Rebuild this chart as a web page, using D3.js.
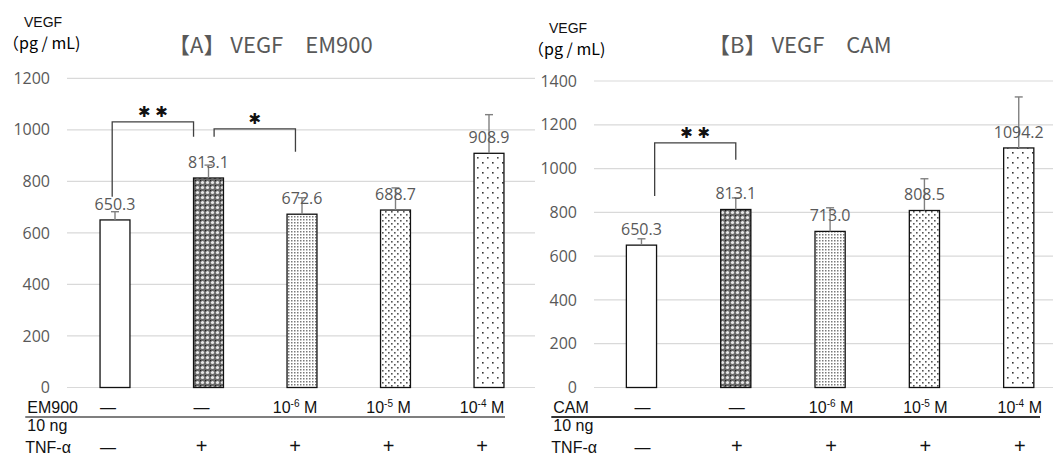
<!DOCTYPE html>
<html>
<head>
<meta charset="utf-8">
<script src="https://cdn.jsdelivr.net/npm/d3@7/dist/d3.min.js"></script>
<style>
  body { margin: 0; background: #fff; }
  svg { display: block; }
  .num { font-family: "Open Sans", sans-serif; fill: #595959; }
  .jp { font-family: "Noto Sans CJK JP", sans-serif; }
  .tbl { font-family: "Liberation Sans", Arial, sans-serif; fill: #111; }
</style>
</head>
<body>
<div id="chart"></div>
<script>
// groups (bars) shared by both panels
const categories = ['control', 'tnf', 'dose6', 'dose5', 'dose4']
const doseExp = [null, null, '-6', '-5', '-4']
const tnfSigns = ['\u2014', '+', '+', '+', '+']
const patterns = ['white', 'pat-dark', 'pat-dense', 'pat-mid', 'pat-sparse']

// [A] EM900
const emValues = [650.3, 813.1, 672.6, 688.7, 908.9]
const emErrors = [32, 50, 64, 86, 150]
const emTicks = [0, 200, 400, 600, 800, 1000, 1200]
// brackets: from / to category index, x shift (fraction of step), y values
const emBrackets = [
  {from: 0, to: 1, dx0: -0.03, dx1: -0.16, top: 1031, end0: 740, end1: 973, label: '\u2731 \u2731'},
  {from: 1, to: 2, dx0: 0.06, dx1: -0.07, top: 1004, end0: 973, end1: 915, label: '\u2731'}
]

// [B] CAM
const camValues = [650.3, 813.1, 713.0, 808.5, 1094.2]
const camErrors = [29, 53, 108, 145, 233]
const camTicks = [0, 200, 400, 600, 800, 1000, 1200, 1400]
const camBrackets = [
  {from: 0, to: 1, dx0: 0.14, dx1: 0.0, top: 1117, end0: 875, end1: 1040, label: '\u2731 \u2731'}
]

const W = 1053, H = 457

const svg = d3.select('#chart').append('svg')
  .attr('width', W)
  .attr('height', H)
  .attr('xmlns', 'http://www.w3.org/2000/svg')

// fill patterns, roughly like the excel ones
const defs = svg.append('defs')

let p = defs.append('pattern').attr('id', 'pat-dark')
  .attr('patternUnits', 'userSpaceOnUse').attr('width', 5).attr('height', 5)
p.append('rect').attr('width', 5).attr('height', 5).attr('fill', '#6a6a6a')
p.append('circle').attr('cx', 2.5).attr('cy', 2.5).attr('r', 1.6).attr('fill', '#e8e8e8')
p.append('rect').attr('width', 1.2).attr('height', 1.2).attr('fill', '#222')

p = defs.append('pattern').attr('id', 'pat-dense')
  .attr('patternUnits', 'userSpaceOnUse').attr('width', 3).attr('height', 3)
p.append('rect').attr('width', 3).attr('height', 3).attr('fill', '#fff')
p.append('rect').attr('width', 1.5).attr('height', 1.5).attr('fill', '#7a7a7a')

p = defs.append('pattern').attr('id', 'pat-mid')
  .attr('patternUnits', 'userSpaceOnUse').attr('width', 6).attr('height', 6)
p.append('rect').attr('width', 6).attr('height', 6).attr('fill', '#fff')
p.append('rect').attr('x', 1).attr('y', 1).attr('width', 1.6).attr('height', 1.6).attr('fill', '#555')
p.append('rect').attr('x', 4).attr('y', 4).attr('width', 1.6).attr('height', 1.6).attr('fill', '#555')

p = defs.append('pattern').attr('id', 'pat-sparse')
  .attr('patternUnits', 'userSpaceOnUse').attr('width', 10).attr('height', 10)
p.append('rect').attr('width', 10).attr('height', 10).attr('fill', '#fff')
p.append('rect').attr('x', 2).attr('y', 2).attr('width', 1.6).attr('height', 1.6).attr('fill', '#333')
p.append('rect').attr('x', 7).attr('y', 7).attr('width', 1.6).attr('height', 1.6).attr('fill', '#444')

function drawPanel(opt) {
  let g = svg.append('g')

  let x = d3.scaleBand()
    .domain(categories)
    .range(opt.xRange)
    .paddingInner(0.68)
    .paddingOuter(0.34)
  let y = d3.scaleLinear()
    .domain([0, d3.max(opt.ticks)])
    .range([387.5, opt.yTop])
  let step = x.step()
  let cx = i => x(categories[i]) + x.bandwidth() / 2

  // gridlines + tick labels
  g.append('g')
    .selectAll('line')
    .data(opt.ticks)
    .join('line')
    .attr('x1', opt.gridX[0]).attr('x2', opt.gridX[1])
    .attr('y1', d => y(d)).attr('y2', d => y(d))
    .attr('stroke', '#d9d9d9').attr('stroke-width', 1.2)

  g.append('g')
    .selectAll('text')
    .data(opt.ticks)
    .join('text')
    .attr('class', 'num')
    .attr('x', opt.tickX)
    .attr('y', d => y(d))
    .attr('dy', '0.35em')
    .attr('text-anchor', 'end')
    .attr('font-size', 16)
    .text(d => d)

  // bars
  g.append('g')
    .selectAll('rect')
    .data(opt.values)
    .join('rect')
    .attr('x', (d, i) => x(categories[i]))
    .attr('y', d => y(d))
    .attr('width', x.bandwidth())
    .attr('height', d => y(0) - y(d))
    .attr('fill', (d, i) => patterns[i] == 'white' ? '#fff' : `url(#${patterns[i]})`)
    .attr('stroke', '#111').attr('stroke-width', 1.3)

  // error bars (upper only)
  let eb = g.append('g').attr('stroke', '#808080').attr('stroke-width', 1.4)
  opt.values.forEach((v, i) => {
    let top = y(v + opt.errors[i])
    eb.append('line').attr('x1', cx(i)).attr('x2', cx(i)).attr('y1', y(v)).attr('y2', top)
    eb.append('line').attr('x1', cx(i) - 4).attr('x2', cx(i) + 4).attr('y1', top).attr('y2', top)
  })

  // value labels
  g.append('g')
    .selectAll('text')
    .data(opt.values)
    .join('text')
    .attr('class', 'num')
    .attr('x', (d, i) => cx(i))
    .attr('y', d => y(d) - 10)
    .attr('text-anchor', 'middle')
    .attr('font-size', 16)
    .text(d => d.toFixed(1))

  // significance brackets
  opt.brackets.forEach(b => {
    let x0 = cx(b.from) + b.dx0 * step
    let x1 = cx(b.to) + b.dx1 * step
    g.append('path')
      .attr('d', `M ${x0} ${y(b.end0)} V ${y(b.top)} H ${x1} V ${y(b.end1)}`)
      .attr('fill', 'none')
      .attr('stroke', '#404040').attr('stroke-width', 1.3)
    g.append('text')
      .attr('x', (x0 + x1) / 2)
      .attr('y', y(b.top) - 10)
      .attr('dy', '0.35em')
      .attr('text-anchor', 'middle')
      .attr('font-family', 'DejaVu Sans')
      .attr('font-size', 15)
      .attr('fill', '#111')
      .text(b.label)
  })

  // title
  g.append('text')
    .attr('class', 'jp')
    .attr('x', opt.titleX)
    .attr('y', 53)
    .attr('font-size', 22)
    .attr('fill', '#595959')
    .style('white-space', 'pre')
    .text(opt.title)

  // axis unit
  g.append('text').attr('class', 'tbl')
    .attr('x', opt.unitX + 21).attr('y', opt.unitY)
    .attr('font-size', 14).attr('fill', '#000')
    .text('VEGF')
  g.append('text').attr('class', 'jp')
    .attr('x', opt.unitX).attr('y', opt.unitY + 22)
    .attr('font-size', 16).attr('fill', '#000')
    .text('\uFF08pg / mL)')

  // condition table under the bars
  let left = opt.xRange[0] - 41
  g.append('text').attr('class', 'tbl')
    .attr('x', left).attr('y', 413)
    .attr('font-size', 16)
    .text(opt.drug)
  doseExp.forEach((e, i) => {
    let t = g.append('text').attr('class', 'tbl')
      .attr('x', cx(i) - opt.rowShift).attr('y', 413)
      .attr('text-anchor', 'middle')
      .attr('font-size', 16)
    if (e == null) {
      t.text('\u2014')
    } else {
      t.append('tspan').text('10')
      t.append('tspan').attr('font-size', 10).attr('dy', -6).text(e)
      t.append('tspan').attr('dy', 6).text(' M')
    }
  })
  g.append('line')
    .attr('x1', left - 2).attr('x2', opt.lineEnd)
    .attr('y1', 417).attr('y2', 417)
    .attr('stroke', opt.lineColor).attr('stroke-width', 1.8)
  g.append('text').attr('class', 'tbl')
    .attr('x', left).attr('y', 431)
    .attr('font-size', 16)
    .text('10 ng')
  g.append('text').attr('class', 'tbl')
    .attr('x', left - 2).attr('y', 453)
    .attr('font-size', 16)
    .text('TNF-\u03B1')
  tnfSigns.forEach((s, i) => {
    g.append('text').attr('class', 'tbl')
      .attr('x', cx(i) - opt.rowShift).attr('y', 453)
      .attr('text-anchor', 'middle')
      .attr('font-size', s == '+' ? 20 : 16)
      .text(s)
  })
}

drawPanel({
  values: emValues, errors: emErrors, ticks: emTicks, brackets: emBrackets,
  xRange: [68.25, 535.75], gridX: [67, 535], yTop: 78.3, tickX: 50,
  title: '\u3010A\u3011 VEGF\u3000EM900', titleX: 168,
  unitX: 3, unitY: 27, drug: 'EM900', rowShift: 7,
  lineEnd: 505, lineColor: '#7f7f7f'
})

drawPanel({
  values: camValues, errors: camErrors, ticks: camTicks, brackets: camBrackets,
  xRange: [594.3, 1065.9], gridX: [594, 1053], yTop: 81, tickX: 577,
  title: '\u3010B\u3011 VEGF\u3000CAM', titleX: 708,
  unitX: 528, unitY: 33, drug: 'CAM', rowShift: -1,
  lineEnd: 1040, lineColor: '#333'
})
</script>
</body>
</html>
